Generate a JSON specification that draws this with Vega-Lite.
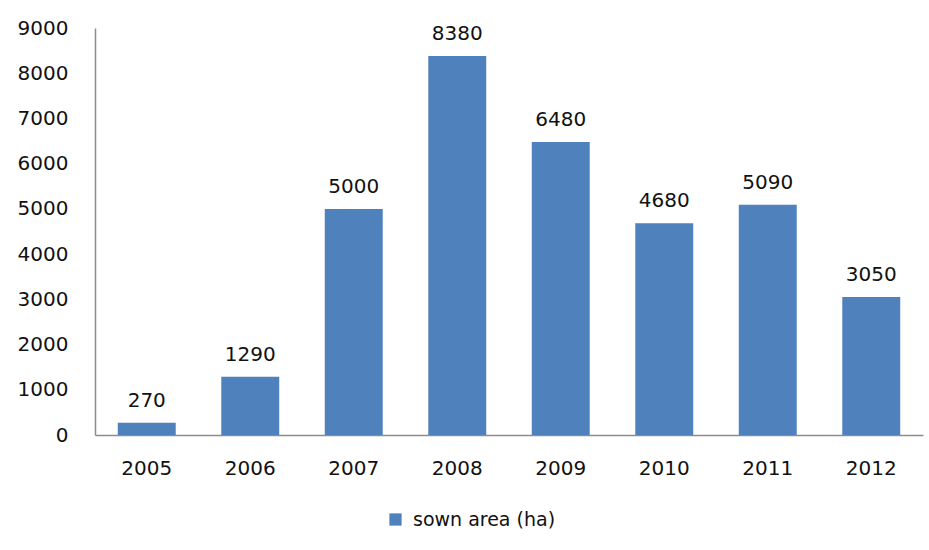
{
  "$schema": "https://vega.github.io/schema/vega-lite/v6.json",
  "autosize": "none",
  "width": 828,
  "height": 407,
  "padding": {"left": 95, "top": 28, "right": 6, "bottom": 115},
  "background": "white",
  "config": {
    "font": "DejaVu Sans",
    "view": {"stroke": null}
  },
  "data": {
    "values": [
      {"year": "2005", "area": 270, "series": "sown area (ha)"},
      {"year": "2006", "area": 1290, "series": "sown area (ha)"},
      {"year": "2007", "area": 5000, "series": "sown area (ha)"},
      {"year": "2008", "area": 8380, "series": "sown area (ha)"},
      {"year": "2009", "area": 6480, "series": "sown area (ha)"},
      {"year": "2010", "area": 4680, "series": "sown area (ha)"},
      {"year": "2011", "area": 5090, "series": "sown area (ha)"},
      {"year": "2012", "area": 3050, "series": "sown area (ha)"}
    ]
  },
  "encoding": {
    "x": {
      "field": "year", "type": "nominal",
      "scale": {"paddingInner": 0.44, "paddingOuter": 0.22},
      "axis": {"title": null, "labelAngle": 0, "ticks": false, "labelPadding": 23, "labelFontSize": 20, "labelColor": "#111", "domainColor": "#8c8c8c", "domainWidth": 1.5}
    },
    "y": {
      "field": "area", "type": "quantitative",
      "scale": {"domain": [0, 9000], "nice": false},
      "axis": {"title": null, "values": [0,1000,2000,3000,4000,5000,6000,7000,8000,9000], "format": "d", "grid": false, "ticks": false, "labelPadding": 27, "labelFontSize": 20, "labelColor": "#111", "domainColor": "#8c8c8c", "domainWidth": 1.5}
    }
  },
  "layer": [
    {
      "mark": {"type": "bar"},
      "encoding": {
        "color": {
          "field": "series", "type": "nominal",
          "scale": {"range": ["#4f81bd"]},
          "legend": {"title": null, "orient": "none", "legendX": 291, "legendY": 482, "symbolType": "square", "symbolSize": 150, "symbolStrokeWidth": 0, "labelFontSize": 19, "labelColor": "#111", "labelOffset": 8}
        }
      }
    },
    {
      "mark": {"type": "text", "baseline": "bottom", "dy": -12, "fontSize": 20, "color": "#111"},
      "encoding": {"text": {"field": "area", "type": "quantitative", "format": "d"}}
    }
  ]
}
